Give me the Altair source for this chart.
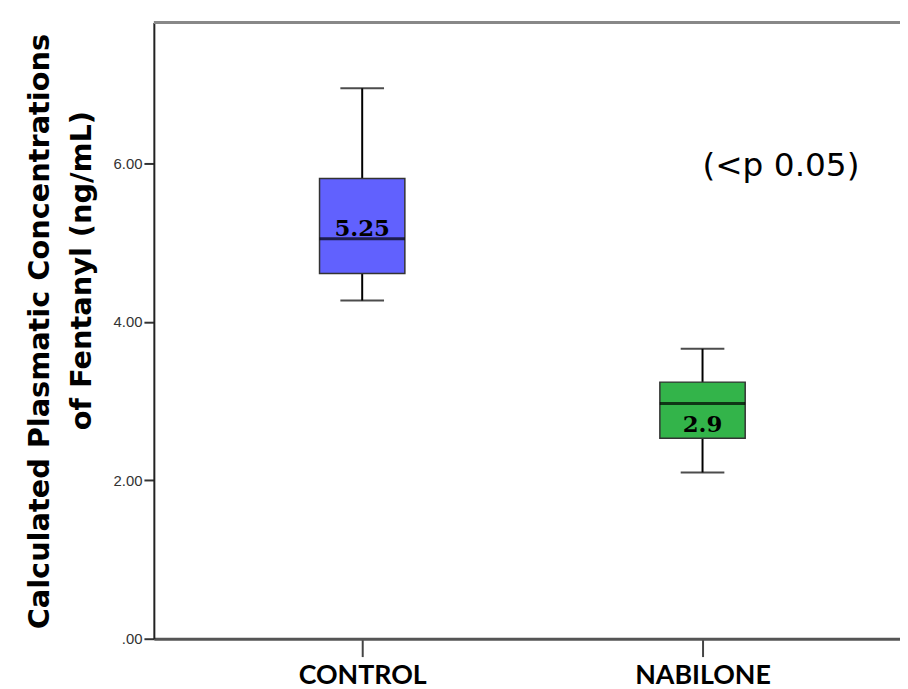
import altair as alt
import pandas as pd

groups = ["CONTROL", "NABILONE"]
lower = [4.27, 2.10]
q1 = [4.61, 2.53]
median = [5.05, 2.97]
q3 = [5.81, 3.24]
upper = [6.95, 3.66]
mean_labels = ["5.25", "2.9"]
fills = ["#6161fe", "#33b44a"]
y_ticks = [0, 2, 4, 6]
y_max = 7.78

df = pd.DataFrame({
    "group": groups, "lower": lower, "q1": q1, "median": median,
    "q3": q3, "upper": upper, "label": mean_labels, "fill": fills,
})

x_enc = alt.X(
    "group:N",
    sort=groups,
    scale=alt.Scale(type="point", padding=0.5962, align=0.5134),
    axis=alt.Axis(
        title=None, labelAngle=0, labelFont="Lato", labelFontWeight="bold",
        labelFontSize=27, labelColor="#000000", labelBaseline="top",
        tickSize=18, tickColor="#444444", tickWidth=2, labelPadding=6,
        domainColor="#555555", domainWidth=3, grid=False,
    ),
)

y_scale = alt.Scale(domain=[0, y_max], nice=False, zero=True)
y_axis = alt.Axis(
    title="Calculated Plasmatic Concentrations",
    titleFont="DejaVu Sans", titleFontWeight="bold", titleFontSize=29,
    titleColor="#000000", titleAngle=270, titleX=-106, titleY=311,
    titleAlign="center", titleBaseline="alphabetic",
    values=y_ticks,
    labelExpr="datum.value == 0 ? '.00' : format(datum.value, '.2f')",
    labelFont="Liberation Sans", labelFontSize=15, labelColor="#333333",
    tickSize=10, tickColor="#333333", tickWidth=2, labelPadding=2,
    domainColor="#222222", domainWidth=2, grid=False,
)

base = alt.Chart(df)

whisker = base.mark_rule(color="#000000", strokeWidth=2).encode(
    x=x_enc,
    y=alt.Y("lower:Q", scale=y_scale, axis=y_axis),
    y2="upper:Q",
)

caps_low = base.mark_tick(color="#000000", size=44, thickness=2).encode(
    x=alt.X("group:N", sort=groups), y="lower:Q"
)
caps_high = base.mark_tick(color="#000000", size=44, thickness=2).encode(
    x=alt.X("group:N", sort=groups), y="upper:Q"
)

box = base.mark_bar(size=86, stroke="#333333", strokeWidth=1.5).encode(
    x=alt.X("group:N", sort=groups),
    y="q1:Q",
    y2="q3:Q",
    fill=alt.Fill("fill:N", scale=None),
)

med = base.mark_tick(color="#000000", size=86, thickness=3).encode(
    x=alt.X("group:N", sort=groups), y="median:Q"
)

lab_control = base.transform_filter(alt.datum.group == "CONTROL").mark_text(
    font="DejaVu Serif", fontWeight="bold", fontSize=23, color="#000000",
    baseline="alphabetic", dy=-3,
).encode(x=alt.X("group:N", sort=groups), y="median:Q", text="label:N")

lab_nab = base.transform_filter(alt.datum.group == "NABILONE").mark_text(
    font="DejaVu Serif", fontWeight="bold", fontSize=23, color="#000000",
    baseline="alphabetic", dy=29,
).encode(x=alt.X("group:N", sort=groups), y="median:Q", text="label:N")

top_border = alt.Chart(pd.DataFrame({"v": [y_max]})).mark_rule(
    color="#888888", strokeWidth=3
).encode(y=alt.Y("v:Q"))

pval = alt.Chart(pd.DataFrame({"t": ["(<p 0.05)"]})).mark_text(
    font="DejaVu Sans", fontSize=33, color="#000000", align="center", baseline="middle"
).encode(x=alt.value(632), y=alt.value(145), text="t:N")

title2 = alt.Chart(pd.DataFrame({"t": ["of Fentanyl (ng/mL)"]})).mark_text(
    font="DejaVu Sans", fontWeight="bold", fontSize=29, color="#000000",
    align="center", baseline="alphabetic", angle=270,
).encode(x=alt.value(-63), y=alt.value(250), text="t:N")

chart = alt.layer(
    top_border, whisker, caps_low, caps_high, box, med,
    lab_control, lab_nab, pval, title2,
).properties(
    width=752, height=621,
    autosize=alt.AutoSizeParams(type="none"),
    padding={"left": 147, "top": 12, "right": 0, "bottom": 48},
).configure_view(
    fill="#f0f0f0", stroke=None
).configure(background="#ffffff")

chart.save("out.html", embed_options={"renderer": "svg", "actions": False})
